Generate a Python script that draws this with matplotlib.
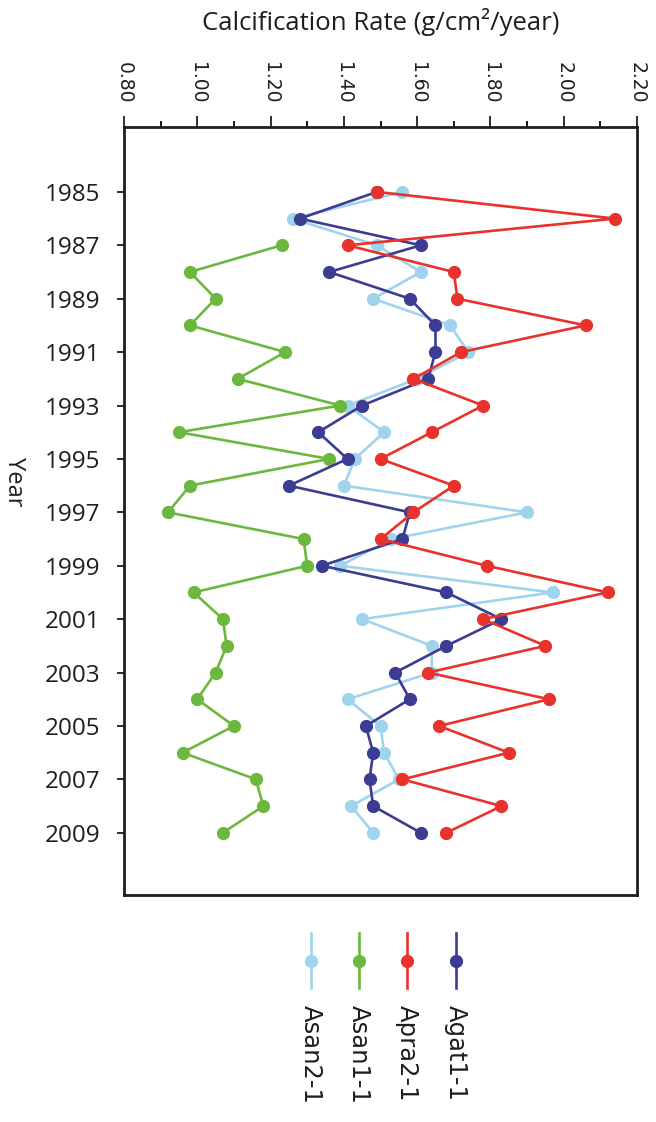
import matplotlib
matplotlib.use("Agg")
import matplotlib.pyplot as plt
from matplotlib.lines import Line2D
from matplotlib.ticker import MultipleLocator

years = list(range(1985, 2010))

agat1_1 = [1.49, 1.28, 1.61, 1.36, 1.58, 1.65, 1.65, 1.63, 1.45, 1.33, 1.41, 1.25, 1.58,
           1.56, 1.34, 1.68, 1.83, 1.68, 1.54, 1.58, 1.46, 1.48, 1.47, 1.48, 1.61]
apra2_1 = [1.49, 2.14, 1.41, 1.70, 1.71, 2.06, 1.72, 1.59, 1.78, 1.64, 1.50, 1.70, 1.59,
           1.50, 1.79, 2.12, 1.78, 1.95, 1.63, 1.96, 1.66, 1.85, 1.56, 1.83, 1.68]
asan1_1 = [None, None, 1.23, 0.98, 1.05, 0.98, 1.24, 1.11, 1.39, 0.95, 1.36, 0.98, 0.92,
           1.29, 1.30, 0.99, 1.07, 1.08, 1.05, 1.00, 1.10, 0.96, 1.16, 1.18, 1.07]
asan2_1 = [1.56, 1.26, 1.49, 1.61, 1.48, 1.69, 1.74, 1.60, 1.41, 1.51, 1.43, 1.40, 1.90,
           1.53, 1.39, 1.97, 1.45, 1.64, 1.64, 1.41, 1.50, 1.51, 1.55, 1.42, 1.48]

series = [
    ("Asan2-1", asan2_1, "#9fd4ec"),
    ("Asan1-1", asan1_1, "#6cb83f"),
    ("Apra2-1", apra2_1, "#e8322b"),
    ("Agat1-1", agat1_1, "#3b3c92"),
]
# drawing order: red sits on top of the dark blue line in the source
zorders = {"Asan2-1": 2, "Asan1-1": 3, "Agat1-1": 4, "Apra2-1": 5}

W, H = 656, 1122
fig = plt.figure(figsize=(W / 100, H / 100), dpi=100)
ax = fig.add_axes([124 / W, 1 - 895 / H, 513 / W, 768 / H])

for name, vals, col in series:
    pts = [(v, y) for v, y in zip(vals, years) if v is not None]
    ax.plot([p[0] for p in pts], [p[1] for p in pts], color=col, lw=1.9,
            marker="o", ms=8.5, label=name, zorder=zorders[name])

ax.set_xlim(0.80, 2.20)
ax.set_ylim(2011.33, 1982.57)
ax.xaxis.set_major_locator(MultipleLocator(0.2))
ax.xaxis.set_minor_locator(MultipleLocator(0.1))
ax.set_yticks(years[::2])
ax.xaxis.tick_top()
ax.tick_params(axis="x", which="major", length=8, width=1.3, direction="out", pad=9,
               labelsize=13.5, labelrotation=270, colors="#1e1e1e")
ax.tick_params(axis="x", which="minor", length=4.3, width=1.3, direction="out")
ax.tick_params(axis="y", which="major", length=5, width=1.3, direction="out", pad=12,
               labelsize=17.5, colors="#1e1e1e")
ax.set_xticklabels([f"{v:.2f}" for v in ax.get_xticks()])
for lab in ax.get_yticklabels():
    lab.set_family("Open Sans")
for s in ax.spines.values():
    s.set_linewidth(2)
    s.set_color("#1e1e1e")

fig.text(380.5 / W, 1 - 22 / H, "Calcification Rate (g/cm\u00b2/year)", family="Open Sans",
         fontsize=18.5, ha="center", va="center", color="#1e1e1e")
fig.text(14 / W, 1 - 482 / H, "Year", family="Open Sans", fontsize=17,
         rotation=270, ha="center", va="center", color="#1e1e1e")

# legend drawn rotated, like the source figure
lx = [311, 359, 407, 456]
for (name, vals, col), x in zip(series, lx):
    fig.add_artist(Line2D([x / W, x / W], [1 - 933 / H, 1 - 988 / H], color=col, lw=1.9,
                          transform=fig.transFigure))
    fig.add_artist(Line2D([x / W], [1 - 961 / H], color=col, marker="o", ms=8.5,
                          transform=fig.transFigure))
    fig.text(x / W, 1 - 1005 / H, name, rotation=270, fontsize=17.5, ha="center", va="top",
             color="#1e1e1e")

fig.savefig("out.png", dpi=100)
